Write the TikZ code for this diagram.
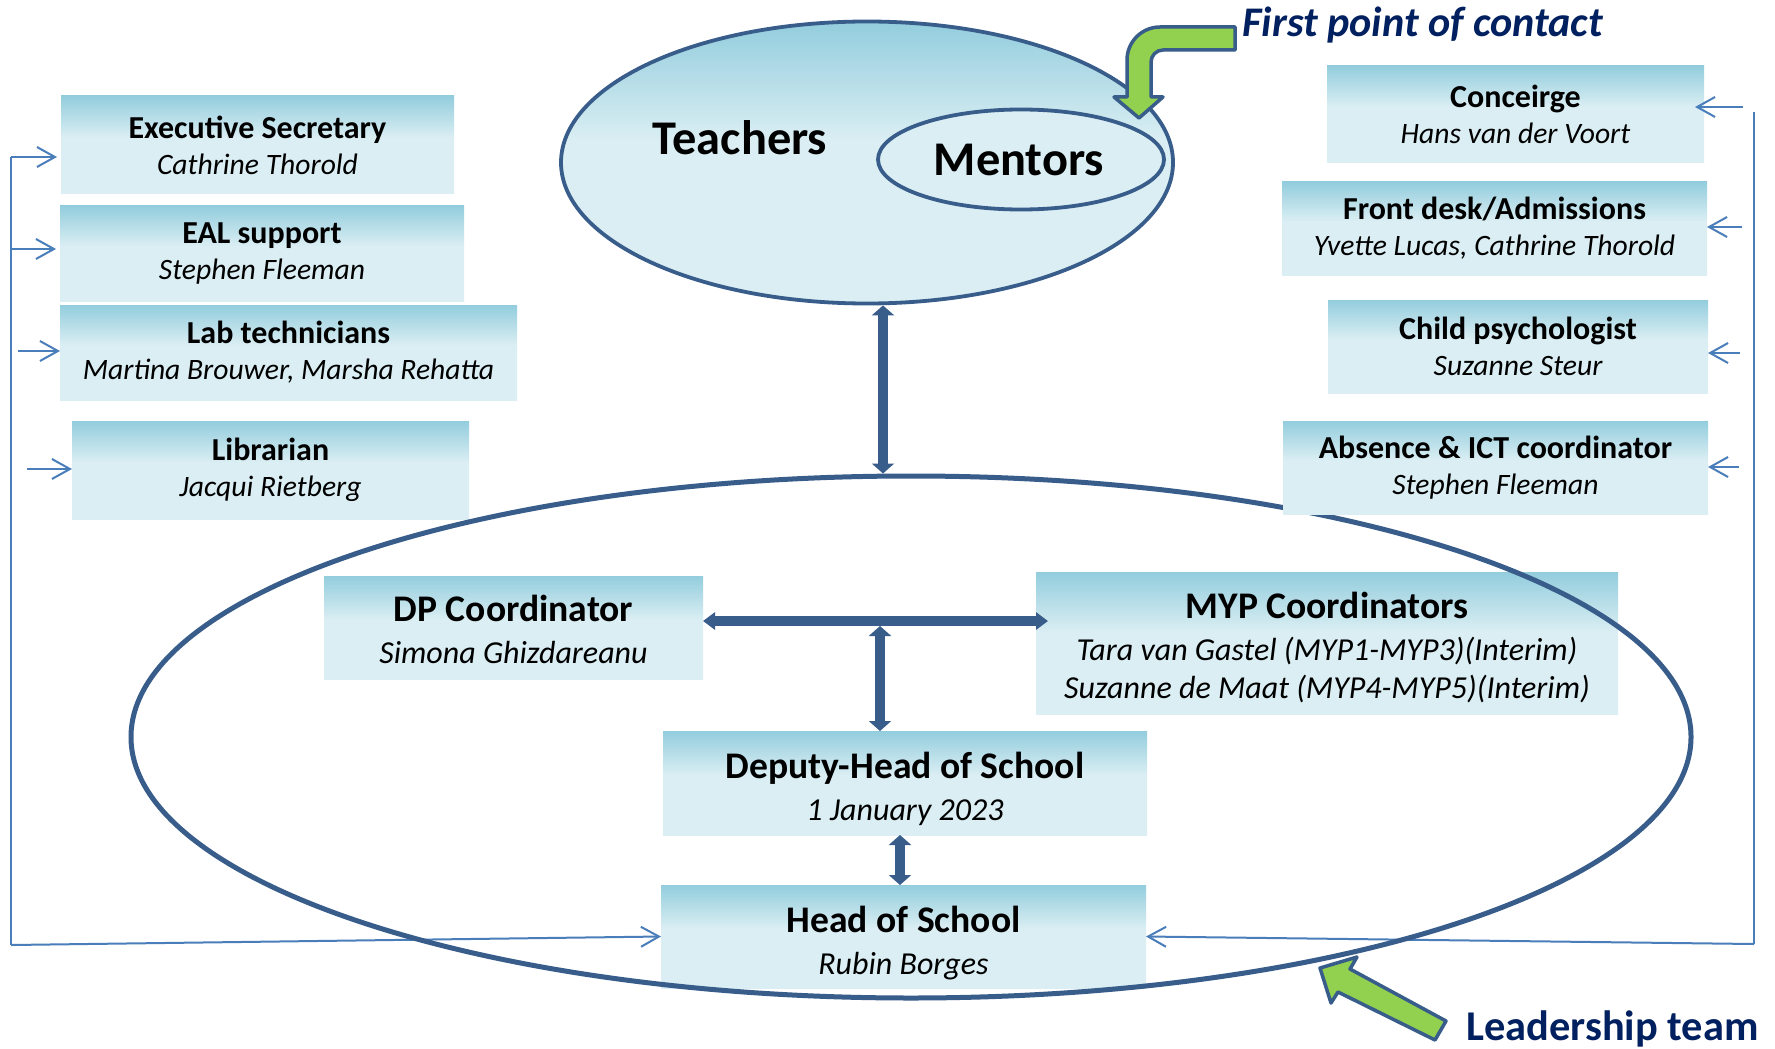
\documentclass[tikz,border=0pt]{standalone}
\usepackage{fontspec}
\setmainfont{Carlito}
\usetikzlibrary{arrows.meta,shapes.geometric,calc}
\definecolor{boxtop}{HTML}{93CDDD}
\definecolor{boxbot}{HTML}{DAEEF3}
\definecolor{edgeblue}{HTML}{385D8A}
\definecolor{thinblue}{HTML}{4A7EBB}
\definecolor{arrowgreen}{HTML}{92D050}
\definecolor{navy}{HTML}{002060}
\pgfdeclareverticalshading{boxshade}{100bp}{color(0bp)=(boxbot); color(25bp)=(boxbot); color(54bp)=(boxbot); color(75bp)=(boxtop); color(100bp)=(boxtop)}
\newcommand\boxtitle[1]{{\bfseries #1}}
\newcommand\boxname[1]{{\itshape\fontsize{14.8pt}{18pt}\selectfont #1}}
\newcommand\ldtitle[2]{{\bfseries\fontsize{18.8pt}{20pt}\selectfont\rule{0pt}{#1}#2}}
\newcommand\ldname[1]{{\itshape\fontsize{16pt}{19pt}\selectfont #1}}
\tikzset{
  box/.style={rectangle, shading=boxshade, inner sep=0pt, outer sep=0pt, align=center,
    font=\fontsize{16pt}{18pt}\selectfont},
  lbox/.style={box, font=\fontsize{16pt}{19pt}\selectfont},
  thinline/.style={draw=thinblue, line width=1pt},
  thinarrow/.style={thinline, -{Straight Barb[length=9pt,width=10pt]}},
  bigarrow/.style={draw=edgeblue, line width=5pt, {Triangle[length=5pt,width=11pt]}-{Triangle[length=5pt,width=11pt]}},
  widearrow/.style={draw=edgeblue, line width=5pt, {Triangle[length=6pt,width=8.5pt]}-{Triangle[length=6pt,width=8.5pt]}},
  greenarrow/.style={fill=arrowgreen, draw=edgeblue, line width=1.75pt, line join=round},
  callout/.style={text=navy, inner sep=0pt},
  biglabel/.style={font=\fontsize{24.2pt}{27pt}\selectfont\bfseries, inner sep=0pt, anchor=base}
}
\begin{document}
\begin{tikzpicture}[x=0.5pt, y=-0.5pt]
\fill[white] (0,0) rectangle (1775,1048);
\useasboundingbox (0,0) rectangle (1775,1048);

% Teachers / Mentors
\node[ellipse, shading=boxshade, draw=edgeblue, line width=1.9pt, minimum width=306pt, minimum height=141pt, inner sep=0pt] (teachers) at (867,162.5) {};
\node[ellipse, fill=boxbot, draw=edgeblue, line width=1.9pt, minimum width=143pt, minimum height=50pt, inner sep=0pt] (mentors) at (1021,159.5) {};
\node[biglabel] (tlabel) at (740,155) {Teachers};
\node[biglabel] (mlabel) at (1019,176) {Mentors};

% left boxes
\node[box, minimum width=196.5pt, minimum height=49pt] (exec) at (257.5,145) {\boxtitle{Executive Secretary}\\\boxname{Cathrine Thorold}};
\node[box, minimum width=202pt, minimum height=47.5pt] (eal) at (262,253.5) {\boxtitle{EAL support}\\\boxname{Stephen Fleeman}};
\node[box, minimum width=228.5pt, minimum height=47.5pt] (lab) at (288.5,352.5) {\boxtitle{Lab technicians}\\\boxname{Martina Brouwer, Marsha Rehatta}};
\node[box, minimum width=198.5pt, minimum height=49pt] (lib) at (270.5,470) {\boxtitle{Librarian}\\\boxname{Jacqui Rietberg}};

% right boxes
\node[box, minimum width=188.5pt, minimum height=48.5pt] (conc) at (1515.5,114.5) {\boxtitle{Conceirge}\\\boxname{Hans van der Voort}};
\node[box, minimum width=212.5pt, minimum height=46.5pt] (front) at (1494.5,228.5) {\boxtitle{Front desk/Admissions}\\\boxname{Yvette Lucas, Cathrine Thorold}};
\node[box, minimum width=190pt, minimum height=46.5pt] (child) at (1518,346.5) {\boxtitle{Child psychologist}\\\boxname{Suzanne Steur}};

% leadership boxes
\node[lbox, minimum width=189.5pt, minimum height=51.5pt] (dp) at (513.5,627.5) {\ldtitle{15.5pt}{DP Coordinator}\\[2pt]\ldname{Simona Ghizdareanu}};
\node[lbox, minimum width=291pt, minimum height=71pt] (myp) at (1327,643) {\ldtitle{17.5pt}{MYP Coordinators}\\[2pt]\ldname{Tara van Gastel (MYP1-MYP3)(Interim)}\\\ldname{Suzanne de Maat (MYP4-MYP5)(Interim)}};
\node[lbox, minimum width=242pt, minimum height=52pt] (dep) at (905,783) {\ldtitle{19.5pt}{Deputy-Head of School}\\[2pt]\ldname{1 January 2023}};
\node[lbox, minimum width=242.5pt, minimum height=51.5pt] (head) at (903.5,936.5) {\ldtitle{19.5pt}{Head of School}\\[2pt]\ldname{Rubin Borges}};

% thin connectors, left
\coordinate (L0) at (11,157);
\coordinate (L1) at (11,945);
\coordinate (L2) at (11,249);
\coordinate (L3) at (18,351);
\coordinate (L4) at (27,469);
\draw[thinline] (L0) -- (L1);
\draw[thinarrow] (L1) -- (head.west);
\draw[thinarrow, shorten >=2pt] (L0) -- (L0 -| exec.west);
\draw[thinarrow, shorten >=2pt] (L2) -- (L2 -| eal.west);
\draw[thinarrow] (L3) -- (L3 -| lab.west);
\draw[thinarrow] (L4) -- (L4 -| lib.west);

% thin connectors, right
\coordinate (R0) at (1754,112);
\coordinate (R1) at (1754,944);
\coordinate (R2) at (1743,107);
\coordinate (R3) at (1742,227);
\coordinate (R4) at (1740,353);
\coordinate (R5) at (1739,467);
\draw[thinline] (R0) -- (R1);
\draw[thinarrow] (R1) -- (head.east);
\coordinate (R2e) at (R2 -| conc.east);
\draw[thinarrow] (R2) -- ($(R2e)+(-9,0)$);
\draw[thinarrow] (R3) -- (R3 -| front.east);
\draw[thinarrow] (R4) -- (R4 -| child.east);

% big leadership ellipse
\node[ellipse, draw=edgeblue, line width=2.5pt, minimum width=780pt, minimum height=261pt, inner sep=0pt] (big) at (911,737) {};

\node[box, minimum width=212.5pt, minimum height=46.5pt] (abs) at (1495.5,467.5) {\boxtitle{Absence \& ICT coordinator}\\\boxname{Stephen Fleeman}};
\draw[thinarrow] (R5) -- (R5 -| abs.east);

% thick arrows
\coordinate (ta) at ($(teachers.south)+(16,0)$);
\draw[bigarrow] (ta) -- (ta |- big.north);
\coordinate (ha) at ($(dp.east)+(0,-6.5)$);
\coordinate (hb) at (ha -| myp.west);
\draw[widearrow] (ha) -- ($(hb)+(12,0)$);
\coordinate (J) at (880,626);
\draw[bigarrow] (J) -- (J |- dep.north);
\coordinate (dh) at ($(dep.south)+(-5,0)$);
\draw[bigarrow] (dh) -- (dh |- head.north);

% green arrows
\draw[greenarrow] (1235,27) -- (1160,27) .. controls (1141.8,27) and (1127,41.8) .. (1127,60) -- (1127,97) -- (1114,97) -- (1139,118) -- (1163,97) -- (1151,97) -- (1151,62) .. controls (1151,55.4) and (1156.4,50) .. (1163,50) -- (1235,50) -- cycle;
\draw[greenarrow] (1320,968) -- (1357,957) -- (1350,969) -- (1446,1021) -- (1435,1040) -- (1338,992) -- (1331,1003) -- cycle;

\node[callout, font=\fontsize{21.1pt}{24pt}\selectfont\bfseries\itshape, anchor=base west] (fpc) at (1242,37) {First point of contact};
\node[callout, font=\fontsize{21.2pt}{24pt}\selectfont\bfseries, anchor=base west] (lt) at (1466,1040) {Leadership team};
\end{tikzpicture}
\end{document}
